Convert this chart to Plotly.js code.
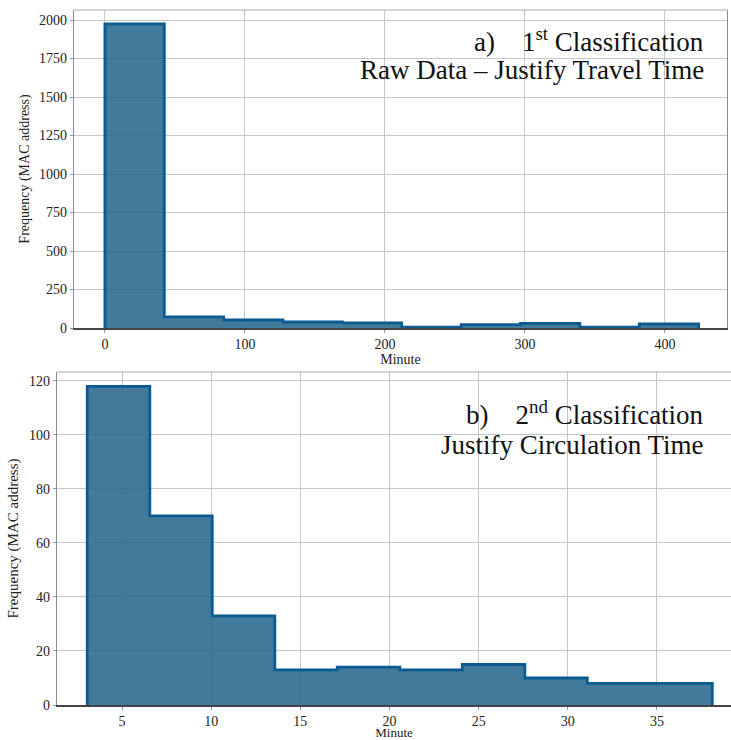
<!DOCTYPE html>
<html>
<head>
<meta charset="utf-8">
<script src="https://cdn.plot.ly/plotly-3.0.1.min.js"></script>
<style>html,body{margin:0;padding:0;background:#fff;}#chart{width:731px;height:740px;}</style>
</head>
<body>
<div id="chart"></div>
<script>
// a) 1st classification: bin edges (minutes) and counts
const topEdges = [0, 42.4, 84.8, 127.2, 169.6, 212, 254.4, 296.8, 339.2, 381.6, 424];
const topCounts = [1975, 72, 52, 39, 33, 5, 22, 30, 5, 26];
// b) 2nd classification: bin edges (minutes) and counts
const botEdges = [3.05, 6.56, 10.06, 13.57, 17.07, 20.58, 24.08, 27.59, 31.09, 34.6, 38.1];
const botCounts = [118, 70, 33, 13, 14, 13, 15, 10, 8, 8];

const topXTicks = [0, 100, 200, 300, 400];
const topYTicks = [0, 250, 500, 750, 1000, 1250, 1500, 1750, 2000];
const botXTicks = [5, 10, 15, 20, 25, 30, 35];
const botYTicks = [0, 20, 40, 60, 80, 100, 120];

const FILL = 'rgba(44,107,144,0.9)';
const EDGE = '#0b5a92';
const SERIF = 'Liberation Serif';

function barTrace(edges, counts, xa, ya) {
  const centers = [], widths = [];
  for (let i = 0; i < counts.length; i++) {
    centers.push((edges[i] + edges[i + 1]) / 2);
    widths.push(edges[i + 1] - edges[i]);
  }
  return {type: 'bar', x: centers, y: counts, width: widths, xaxis: xa, yaxis: ya,
          marker: {color: FILL, line: {width: 0}}, hoverinfo: 'skip', showlegend: false};
}
function stepTrace(edges, counts, xa, ya) {
  const xs = [edges[0]], ys = [0];
  for (let i = 0; i < counts.length; i++) { xs.push(edges[i]); ys.push(counts[i]); }
  xs.push(edges[edges.length - 1]); ys.push(counts[counts.length - 1]);
  xs.push(edges[edges.length - 1]); ys.push(0);
  return {type: 'scatter', mode: 'lines', x: xs, y: ys, xaxis: xa, yaxis: ya,
          line: {color: EDGE, width: 2.8, shape: 'hv'}, hoverinfo: 'skip', showlegend: false};
}

const W = 731, H = 740;
const px = v => v / W, py = v => 1 - v / H;

const axisCommon = {
  showgrid: true, gridcolor: '#c6c6c6', gridwidth: 1, zeroline: false,
  tickfont: {family: SERIF, size: 14, color: '#222'},
  ticks: 'outside', ticklen: 3, tickcolor: '#999'
};

const annFont = {family: SERIF, size: 27, color: '#111'};

const layout = {
  width: W, height: H,
  margin: {l: 0, r: 0, t: 0, b: 0},
  paper_bgcolor: '#fff', plot_bgcolor: '#fff',
  bargap: 0,
  font: {family: SERIF},
  xaxis: Object.assign({}, axisCommon, {
    domain: [px(74), px(727)], anchor: 'y', range: [-22.1, 444.3],
    tickvals: topXTicks, showline: true, linecolor: '#444', linewidth: 1.5,
    title: {text: 'Minute', font: {family: SERIF, size: 14, color: '#222'}, standoff: 1}
  }),
  yaxis: Object.assign({}, axisCommon, {
    domain: [py(328), py(10)], anchor: 'x', range: [0, 2065],
    tickvals: topYTicks, showline: true, linecolor: '#8a8a8a', linewidth: 1.2, mirror: true,
    title: {text: 'Frequency (MAC address)', font: {family: SERIF, size: 14, color: '#222'}, standoff: 6}
  }),
  xaxis2: Object.assign({}, axisCommon, {
    domain: [px(57), 1], anchor: 'y2', range: [1.355, 39.15],
    tickvals: botXTicks, showline: true, linecolor: '#444', linewidth: 1.5,
    title: {text: 'Minute', font: {family: SERIF, size: 13, color: '#222'}, standoff: 7}
  }),
  yaxis2: Object.assign({}, axisCommon, {
    domain: [py(705), py(372)], anchor: 'x2', range: [0, 123.3],
    tickvals: botYTicks, showline: true, linecolor: '#8a8a8a', linewidth: 1.2,
    title: {text: 'Frequency (MAC address)', font: {family: SERIF, size: 15, color: '#222'}, standoff: 6}
  }),
  shapes: [
    {type: 'line', xref: 'x domain', yref: 'y domain', x0: 0, x1: 1, y0: 1, y1: 1,
     line: {color: '#aaaaaa', width: 1.2}},
    {type: 'line', xref: 'x2 domain', yref: 'y2 domain', x0: 0, x1: 1, y0: 1, y1: 1,
     line: {color: '#aaaaaa', width: 1.2}}
  ],
  annotations: [
    {xref: 'paper', yref: 'paper', x: px(706), y: py(40), xanchor: 'right', yanchor: 'middle',
     showarrow: false, text: 'a)\u00a0\u00a0\u00a0\u00a01<sup>st</sup> Classification', font: annFont},
    {xref: 'paper', yref: 'paper', x: px(706), y: py(70), xanchor: 'right', yanchor: 'middle',
     showarrow: false, text: 'Raw Data \u2013 Justify Travel Time', font: annFont},
    {xref: 'paper', yref: 'paper', x: px(706), y: py(413), xanchor: 'right', yanchor: 'middle',
     showarrow: false, text: 'b)\u00a0\u00a0\u00a0\u00a02<sup>nd</sup> Classification', font: annFont},
    {xref: 'paper', yref: 'paper', x: px(706), y: py(445), xanchor: 'right', yanchor: 'middle',
     showarrow: false, text: 'Justify Circulation Time', font: annFont}
  ]
};

const data = [
  barTrace(topEdges, topCounts, 'x', 'y'),
  stepTrace(topEdges, topCounts, 'x', 'y'),
  barTrace(botEdges, botCounts, 'x2', 'y2'),
  stepTrace(botEdges, botCounts, 'x2', 'y2')
];

Plotly.newPlot('chart', data, layout, {displayModeBar: false, staticPlot: true});
</script>
</body>
</html>
